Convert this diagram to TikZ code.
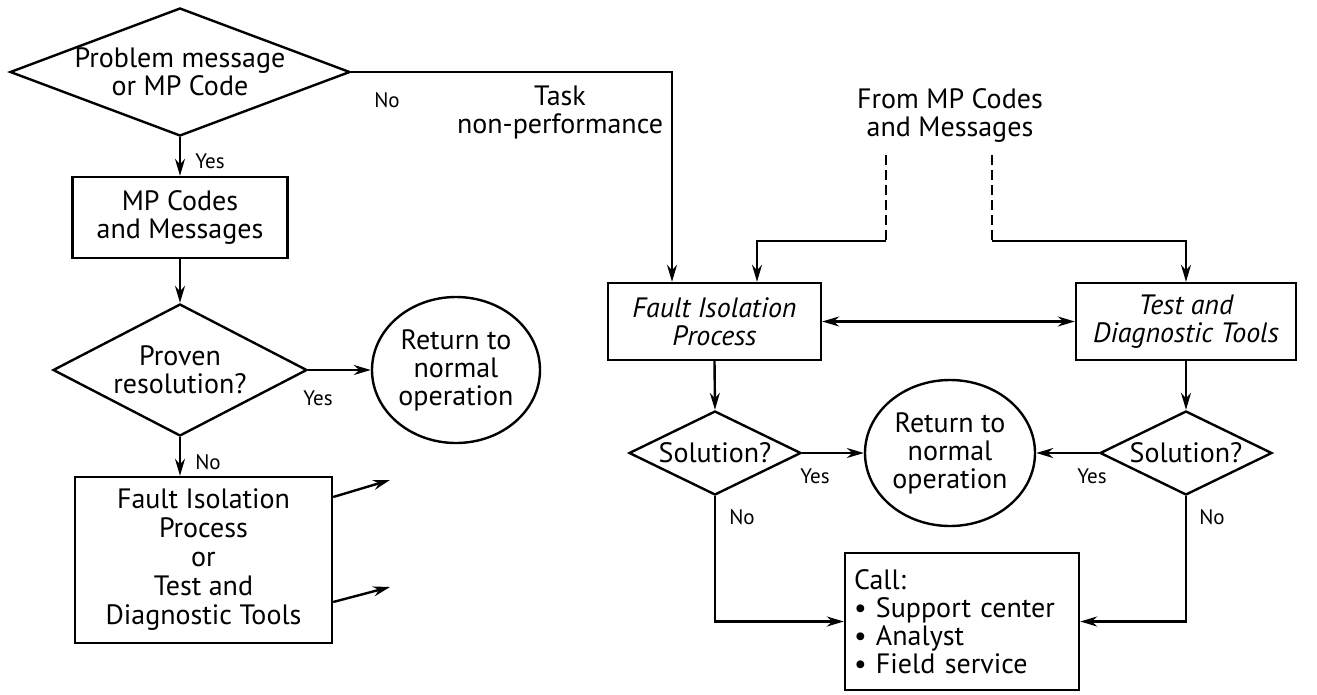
\documentclass[tikz,border=0pt]{standalone}
\usepackage{fontspec}
\setmainfont{PT Sans}
\usetikzlibrary{shapes.geometric,arrows.meta}
\newcommand{\mainsz}{\fontsize{28}{28}\selectfont}
\newcommand{\labsz}{\fontsize{21}{22}\selectfont}
\begin{document}
\begin{tikzpicture}[x=1pt,y=-1pt,
  every node/.style={font=\mainsz, align=center, inner sep=0pt},
  line/.style={line width=2.4pt},
  arr/.style={line, -{Stealth[length=17pt,width=10pt]}},
  arrtwo/.style={line, {Stealth[length=17pt,width=10pt]}-{Stealth[length=17pt,width=10pt]}},
  dsh/.style={line, dash pattern=on 10pt off 5pt},
  box/.style={draw, line width=2.4pt, rectangle},
  dia/.style={draw, line width=2.4pt, diamond},
  oval/.style={draw, line width=2.4pt, ellipse},
  lab/.style={font=\labsz},
  ital/.style={font={\mainsz\itshape}}
]
\useasboundingbox (0,0) rectangle (1317,694);

% left column
\node[dia, aspect=2.66, minimum width=340pt, minimum height=128pt] (d1) at (180,72) {Problem message\\or MP Code};
\node[box, minimum width=215pt, minimum height=81pt] (b1) at (180,217.5) {MP Codes\\and Messages};
\node[dia, aspect=1.92, minimum width=254pt, minimum height=132pt] (d2) at (180,370) {Proven\\resolution?};
\node[oval, minimum width=168pt, minimum height=146pt] (c1) at (456,370) {Return to\\normal\\operation};
\node[box, minimum width=257pt, minimum height=166pt, font={\fontsize{28}{29}\selectfont}] (b2) at (203.5,560) {Fault Isolation\\Process\\or\\Test and\\Diagnostic Tools};

\node[lab] (yes1) at (210,161) {Yes};
\node[lab] (yes2) at (318,398) {Yes};
\node[lab] (no2) at (208,462) {No};
\node[lab] (no1) at (387,100) {No};

\coordinate (o1) at (390,480);
\coordinate (o2) at (390,587);

\draw[arr] (d1.south) -- (b1.north);
\draw[arr] (b1.south) -- (d2.north);
\draw[arr] (d2.east) -- (c1.west);
\draw[arr] (d2.south) -- (d2.south |- b2.north);
\draw[arr] (b2.east |- 0,497) -- (o1);
\draw[arr] (b2.east |- 0,602) -- (o2);

% right part
\node (task) at (560,112) {Task\\non-performance};
\node (from) at (950,115) {From MP Codes\\and Messages};

\node[box, ital, minimum width=213pt, minimum height=77pt] (fb) at (714.5,321.5) {Fault Isolation\\Process};
\node[box, ital, minimum width=220pt, minimum height=77pt] (tb) at (1186,321.5) {Test and\\Diagnostic Tools};
\node[dia, aspect=2.05, minimum width=172pt, minimum height=84pt] (s1) at (715,453) {Solution?};
\node[dia, aspect=2.05, minimum width=172pt, minimum height=84pt] (s2) at (1186,453) {Solution?};
\node[oval, minimum width=170pt, minimum height=146pt] (c2) at (950,453) {Return to\\normal\\operation};
\node[box, align=left, text width=216pt, inner xsep=9pt, minimum height=137pt] (call) at (962,621.5)
  {Call:\\\textbullet\ Support center\\\textbullet\ Analyst\\\textbullet\ Field service};

\node[lab] (yes3) at (815,476) {Yes};
\node[lab] (yes4) at (1092,476) {Yes};
\node[lab] (no3) at (742,517) {No};
\node[lab] (no4) at (1212,517) {No};

\coordinate (fm1) at (886,155);
\coordinate (fm2) at (992,155);
\coordinate (j1) at (886,241);
\coordinate (j2) at (992,241);

\draw[arr] (d1.east) -| ([xshift=-42.5pt]fb.north);
\draw[dsh] (fm1) -- (j1);
\draw[dsh] (fm2) -- (j2);
\draw[arr] (j1) -| ([xshift=42.5pt]fb.north);
\draw[arr] (j2) -| (tb.north);
\draw[arrtwo] (fb.east) -- (tb.west);
\draw[arr] (fb.south) -- (s1.north);
\draw[arr] (tb.south) -- (s2.north);
\draw[arr] (s1.east) -- (c2.west);
\draw[arr] (s2.west) -- (c2.east);
\draw[arr] (s1.south) |- (call.west);
\draw[arr] (s2.south) |- (call.east);
\end{tikzpicture}
\end{document}
